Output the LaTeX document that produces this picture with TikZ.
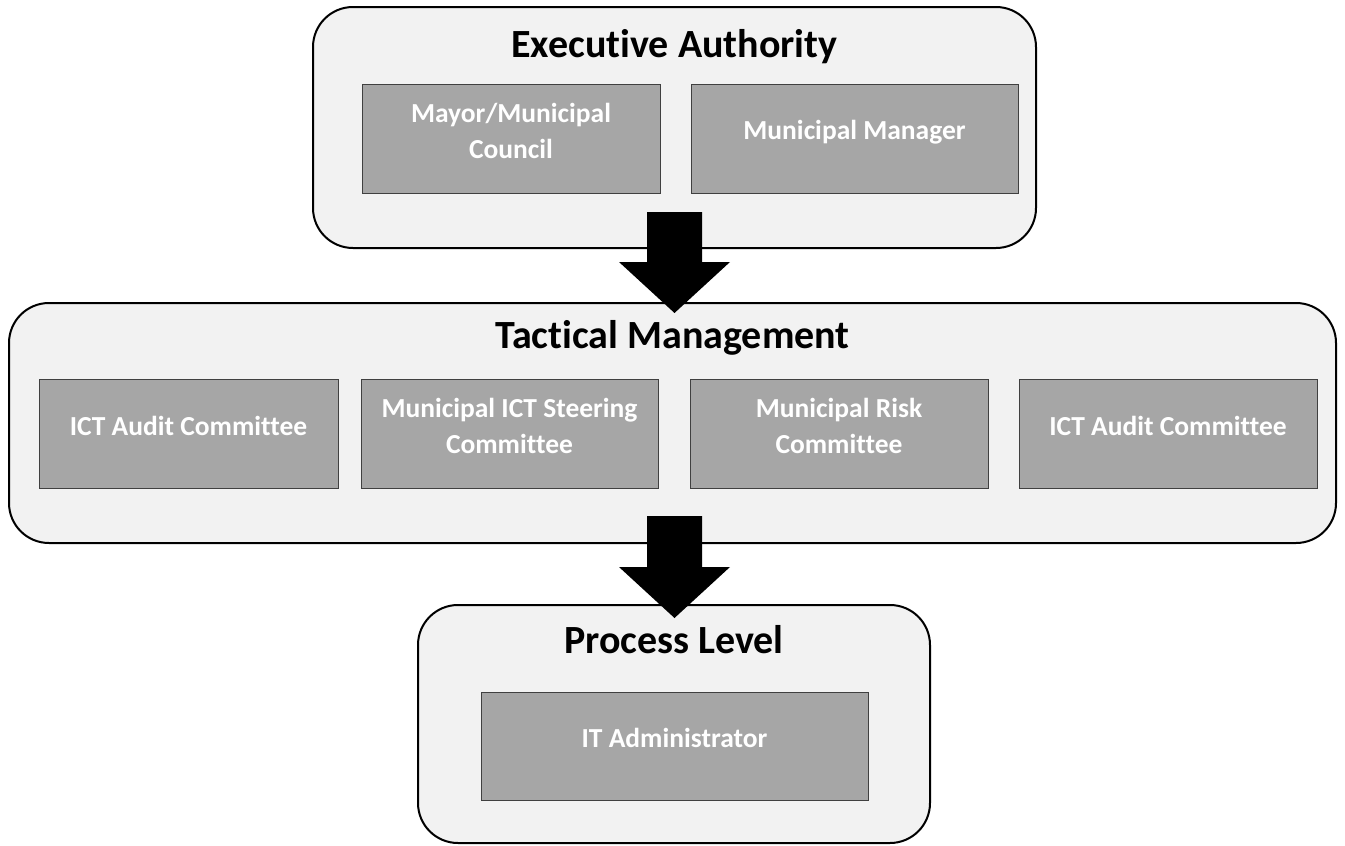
\documentclass[tikz,border=0pt]{standalone}
\usepackage{fontspec}
\setmainfont{Carlito}[Ligatures=NoCommon]
\definecolor{outerfill}{HTML}{F2F2F2}
\definecolor{innerfill}{HTML}{A6A6A6}
\definecolor{innerline}{HTML}{404040}
\begin{document}
\begin{tikzpicture}[x=1pt,y=-1pt,
  outerbox/.style={draw=black, line width=2pt, fill=outerfill, rounded corners=40pt, inner sep=0pt},
  inbox/.style={draw=innerline, line width=1pt, fill=innerfill, inner sep=0pt, minimum height=109pt},
  intext/.style={text=white, font=\fontsize{27.5}{36}\selectfont\bfseries, align=center, inner sep=0pt},
  title/.style={font=\fontsize{40}{48}\selectfont\bfseries, inner sep=0pt},
  blockarrow/.style={fill=black, draw=none}]
\useasboundingbox (0,0) rectangle (1345,846);
% outer boxes
\node[outerbox, minimum width=723pt, minimum height=241pt] (exec) at (674.5,127.5) {};
\node[outerbox, minimum width=1327pt, minimum height=240pt] (tact) at (672.5,423) {};
\node[outerbox, minimum width=512pt, minimum height=238pt] (proc) at (674,724) {};
% titles
\node[title] (exect) at (674.5,47) {Executive Authority};
\node[title] (tactt) at (672.5,338) {Tactical Management};
\node[title] (proct) at (674,640) {Process Level};
% inner boxes
\node[inbox, minimum width=298pt] (mayor) at (511,138.5) {};
\node[inbox, minimum width=327pt] (mgr) at (854.5,138.5) {};
\node[inbox, minimum width=299pt] (ict1) at (188.5,433.5) {};
\node[inbox, minimum width=297pt] (steer) at (509.5,433.5) {};
\node[inbox, minimum width=298pt] (risk) at (839,433.5) {};
\node[inbox, minimum width=298pt] (ict2) at (1168,433.5) {};
\node[inbox, minimum width=387pt, minimum height=108pt] (itadm) at (674.5,746) {};
% inner texts
\node[intext] (mayort) at ([yshift=8pt]mayor.center) {Mayor/Municipal\\Council};
\node[intext] (mgrt) at ([yshift=6pt]mgr.center) {Municipal Manager};
\node[intext] (ict1t) at ([yshift=8pt]ict1.center) {ICT Audit Committee};
\node[intext] (steert) at ([yshift=8pt]steer.center) {Municipal ICT Steering\\Committee};
\node[intext] (riskt) at ([yshift=8pt]risk.center) {Municipal Risk\\Committee};
\node[intext] (ict2t) at ([yshift=8pt]ict2.center) {ICT Audit Committee};
\node[intext] (itadmt) at ([yshift=8pt]itadm.center) {IT Administrator};
% block arrows
\coordinate (a1) at (674.5,212);
\coordinate (a2) at (674.5,516);
\fill[blockarrow] ([xshift=-27.5pt]a1) -- ([xshift=27.5pt]a1) -- ([xshift=27.5pt,yshift=-50pt]a1) -- ([xshift=55.5pt,yshift=-50pt]a1) -- ([yshift=-101pt]a1) -- ([xshift=-55.5pt,yshift=-50pt]a1) -- ([xshift=-27.5pt,yshift=-50pt]a1) -- cycle;
\fill[blockarrow] ([xshift=-27.5pt]a2) -- ([xshift=27.5pt]a2) -- ([xshift=27.5pt,yshift=-51pt]a2) -- ([xshift=55.5pt,yshift=-51pt]a2) -- ([yshift=-102pt]a2) -- ([xshift=-55.5pt,yshift=-51pt]a2) -- ([xshift=-27.5pt,yshift=-51pt]a2) -- cycle;
\end{tikzpicture}
\end{document}
